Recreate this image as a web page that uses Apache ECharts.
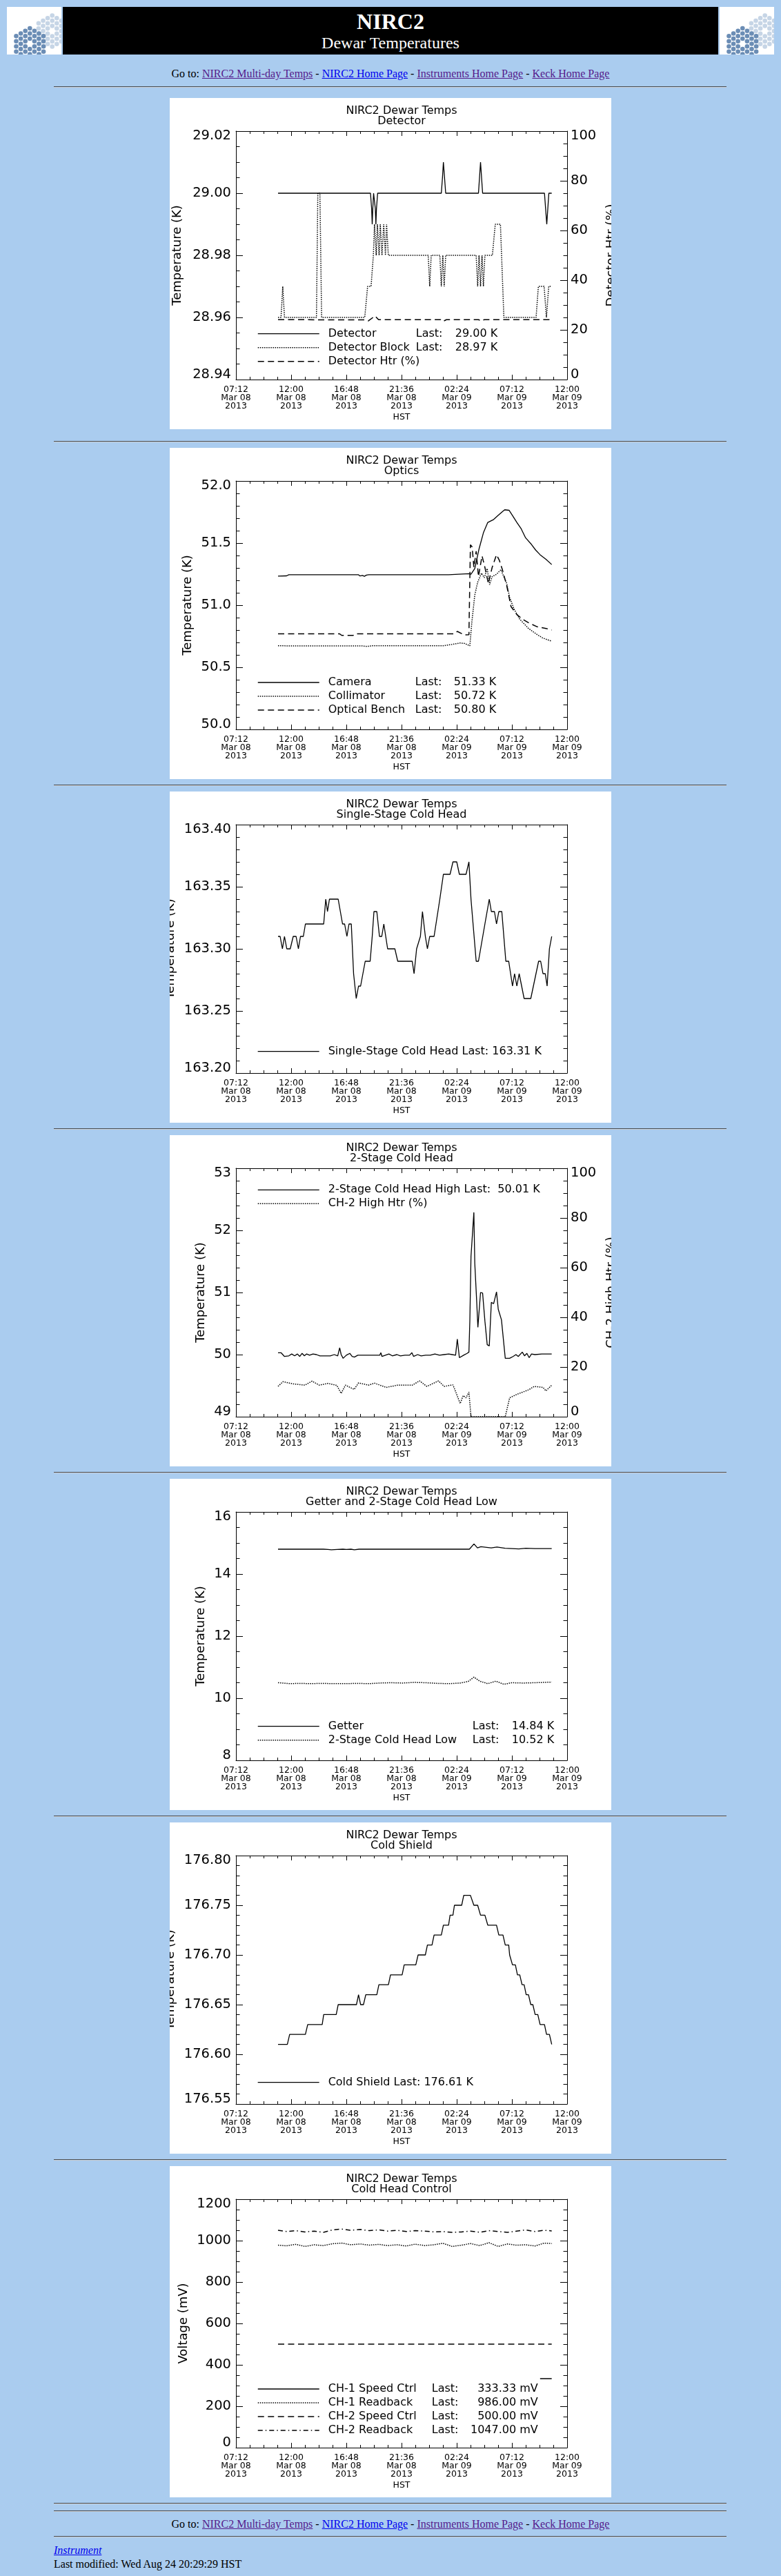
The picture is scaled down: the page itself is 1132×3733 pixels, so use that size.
<!DOCTYPE html>
<html><head><meta charset="utf-8">
<title>NIRC2 Dewar Temperatures</title>
<script src="https://cdn.jsdelivr.net/npm/echarts@6/dist/echarts.min.js"></script>
<style>
html,body{margin:0;padding:0;background:#AACCEF;}
#page{position:relative;width:1132px;height:3733px;overflow:hidden;font-family:'Liberation Serif','Times New Roman',serif;color:#000;}
.hr{position:absolute;left:78px;width:975px;height:0;border-top:1px solid #474d55;border-bottom:1px solid #c9cdd2;}
.goto{position:absolute;left:0;width:1132px;text-align:center;font-size:16px;line-height:16px;white-space:nowrap;}
a{text-decoration:underline;}
a.v{color:#551A8B;} a.n{color:#0000EE;}
.chart{position:absolute;left:246px;width:640px;height:480px;background:#fff;}
.logo{position:absolute;top:10px;width:79px;height:69px;background:#fff;}
</style></head>
<body>
<div id="page">
  <svg class="logo" id="logoL" style="left:10px" width="79" height="69"></svg>
  <div style="position:absolute;left:91px;top:10px;width:950px;height:69px;background:#000;"></div>
  <svg class="logo" id="logoR" style="left:1043px" width="78" height="69"></svg>
  <div style="position:absolute;left:91px;top:15px;width:950px;text-align:center;color:#fff;font-size:32px;line-height:32px;font-weight:bold;">NIRC2</div>
  <div style="position:absolute;left:91px;top:50px;width:950px;text-align:center;color:#fff;font-size:24px;line-height:24px;">Dewar Temperatures</div>

  <div class="goto" style="top:99px">Go to: <a class="v" href="#">NIRC2 Multi-day Temps</a> - <a class="n" href="#">NIRC2 Home Page</a> - <a class="v" href="#">Instruments Home Page</a> - <a class="v" href="#">Keck Home Page</a></div>
  <div class="hr" style="top:125px"></div>

  <div class="chart" id="c1" style="top:142px"></div>
  <div class="hr" style="top:639px"></div>
  <div class="chart" id="c2" style="top:649px"></div>
  <div class="hr" style="top:1137px"></div>
  <div class="chart" id="c3" style="top:1147px"></div>
  <div class="hr" style="top:1635px"></div>
  <div class="chart" id="c4" style="top:1645px"></div>
  <div class="hr" style="top:2133px"></div>
  <div class="chart" id="c5" style="top:2143px"></div>
  <div class="hr" style="top:2631px"></div>
  <div class="chart" id="c6" style="top:2641px"></div>
  <div class="hr" style="top:3129px"></div>
  <div class="chart" id="c7" style="top:3139px"></div>
  <div class="hr" style="top:3627px"></div>
  <div class="hr" style="top:3638px"></div>

  <div class="goto" style="top:3650px">Go to: <a class="v" href="#">NIRC2 Multi-day Temps</a> - <a class="n" href="#">NIRC2 Home Page</a> - <a class="v" href="#">Instruments Home Page</a> - <a class="v" href="#">Keck Home Page</a></div>
  <div class="hr" style="top:3675px"></div>
  <div style="position:absolute;left:78px;top:3688px;font-size:16px;line-height:16px;font-style:italic;"><a class="n" href="#">Instrument</a></div>
  <div style="position:absolute;left:78px;top:3708px;font-size:16px;line-height:16px;white-space:nowrap;">Last modified: Wed Aug 24 20:29:29 HST</div>
</div>

<script>
// ---------------- DATA (time = hours after 07:12 Mar 08 2013 HST) ----------------
// Chart 1: Detector
const detTemp = [[3.66,29.00],[11.70,29.00],[11.80,28.995],[11.85,28.99],[11.90,28.995],[11.97,29.00],[12.03,29.00],[12.12,28.995],[12.17,28.99],[12.22,28.995],[12.32,29.00],[17.86,29.00],[17.96,29.005],[18.04,29.01],[18.14,29.005],[18.24,29.00],[21.09,29.00],[21.18,29.005],[21.27,29.01],[21.36,29.005],[21.45,29.00],[26.83,29.00],[26.93,28.995],[27.03,28.99],[27.12,28.995],[27.21,29.00],[27.46,29.00]];
const detBlock = [[3.66,28.96],[3.92,28.96],[4.07,28.97],[4.22,28.96],[7.00,28.96],[7.12,29.00],[7.30,29.00],[7.45,28.96],[11.20,28.96],[11.45,28.97],[11.75,28.97],[11.95,28.98],[12.05,28.99],[12.20,28.98],[12.30,28.99],[12.45,28.98],[12.55,28.99],[12.70,28.98],[12.85,28.99],[13.00,28.98],[13.10,28.99],[13.25,28.98],[16.72,28.98],[16.85,28.97],[16.98,28.98],[17.73,28.98],[17.86,28.97],[17.99,28.98],[18.11,28.97],[18.24,28.98],[20.89,28.98],[21.02,28.97],[21.14,28.98],[21.27,28.97],[21.40,28.98],[21.52,28.97],[21.65,28.98],[22.30,28.98],[22.55,28.99],[23.00,28.99],[23.30,28.96],[26.10,28.96],[26.30,28.97],[26.80,28.97],[27.00,28.96],[27.20,28.97],[27.46,28.97]];
const detHtr = [[3.66,24.1],[11.2,24.0],[11.5,23.6],[12.1,25.6],[12.4,24.1],[17.8,24.1],[18.0,23.4],[18.3,24.1],[21.1,24.1],[21.3,23.6],[21.6,24.1],[27.46,24.1]];

// Chart 2: Optics
const camera = [[3.66,51.234],[4.40,51.236],[4.60,51.245],[10.66,51.245],[10.79,51.235],[11.00,51.240],[11.17,51.233],[11.35,51.242],[11.55,51.245],[18.49,51.245],[18.57,51.254],[20.26,51.254],[20.44,51.249],[20.77,51.295],[21.14,51.453],[21.52,51.583],[21.90,51.666],[22.41,51.690],[22.79,51.722],[23.17,51.753],[23.37,51.768],[23.75,51.764],[24.05,51.722],[24.43,51.666],[24.81,51.614],[25.19,51.542],[25.69,51.490],[26.07,51.443],[26.45,51.406],[26.96,51.369],[27.46,51.327]];
const collimator = [[3.66,50.673],[11.0,50.672],[11.4,50.668],[11.8,50.673],[17.99,50.673],[18.74,50.683],[19.50,50.696],[19.88,50.692],[20.34,50.673],[20.51,50.859],[20.77,51.082],[21.02,51.184],[21.35,51.258],[21.60,51.221],[21.85,51.295],[22.06,51.165],[22.28,51.230],[22.66,51.249],[23.04,51.286],[23.29,51.230],[23.55,51.174],[23.80,51.063],[24.18,50.970],[24.68,50.887],[25.44,50.813],[26.20,50.763],[26.70,50.735],[27.46,50.710]];
const bench = [[3.66,50.770],[9.0,50.770],[9.2,50.757],[10.2,50.757],[10.4,50.770],[19.0,50.770],[19.25,50.789],[19.88,50.760],[20.26,50.763],[20.39,51.486],[20.54,51.470],[20.69,51.304],[20.89,51.434],[21.09,51.230],[21.40,51.397],[21.65,51.304],[21.95,51.174],[22.28,51.304],[22.66,51.406],[22.91,51.360],[23.17,51.286],[23.55,51.156],[23.92,50.989],[24.43,50.924],[24.93,50.887],[25.44,50.859],[26.20,50.826],[26.96,50.813],[27.46,50.800]];

// Chart 3: Single-Stage Cold Head
const ssColdHead = [[3.66,163.31],[3.84,163.31],[4.04,163.30],[4.22,163.31],[4.42,163.30],[4.72,163.30],[4.98,163.31],[5.23,163.31],[5.43,163.30],[5.61,163.31],[5.86,163.31],[6.04,163.32],[7.63,163.32],[7.81,163.34],[7.96,163.33],[8.13,163.34],[8.89,163.34],[9.27,163.32],[9.45,163.32],[9.65,163.31],[9.83,163.32],[10.03,163.32],[10.23,163.28],[10.46,163.26],[10.66,163.27],[10.84,163.27],[11.24,163.29],[11.67,163.29],[11.85,163.31],[12.00,163.33],[12.25,163.33],[12.48,163.31],[12.68,163.31],[12.86,163.32],[13.19,163.30],[13.82,163.30],[14.07,163.29],[15.33,163.29],[15.49,163.28],[15.71,163.30],[16.04,163.31],[16.22,163.33],[16.47,163.31],[16.65,163.30],[16.85,163.31],[17.23,163.31],[17.73,163.34],[18.04,163.36],[18.62,163.36],[18.87,163.37],[19.20,163.37],[19.43,163.36],[20.01,163.36],[20.26,163.37],[20.44,163.34],[20.89,163.29],[21.09,163.29],[21.65,163.32],[22.03,163.34],[22.21,163.33],[22.48,163.33],[22.66,163.32],[22.86,163.33],[23.12,163.33],[23.47,163.29],[23.72,163.29],[24.05,163.27],[24.23,163.28],[24.43,163.27],[24.63,163.28],[25.06,163.26],[25.64,163.26],[26.32,163.29],[26.50,163.29],[26.70,163.28],[26.90,163.28],[27.06,163.27],[27.26,163.30],[27.46,163.31]];

// Chart 4: 2-Stage Cold Head
const csHigh = [[3.66,50.03],[3.92,50.03],[4.22,49.97],[4.6,49.98],[4.85,50.01],[5.1,49.98],[5.35,50.01],[5.55,49.97],[5.75,50.02],[5.95,49.98],[6.15,50.01],[6.4,49.99],[6.7,50.01],[7.0,50.0],[7.3,49.98],[7.8,49.98],[8.2,49.98],[8.55,50.0],[8.85,49.98],[9.02,50.11],[9.15,50.0],[9.32,49.94],[9.6,49.99],[9.9,50.02],[10.1,49.97],[10.3,49.96],[10.6,49.99],[11.2,49.99],[12.0,49.99],[12.5,49.99],[12.6,50.03],[12.7,49.97],[13.0,49.99],[13.3,50.01],[13.6,49.98],[14.0,50.0],[14.3,49.98],[14.7,49.99],[15.1,49.99],[15.3,50.03],[15.45,49.97],[15.8,50.0],[16.1,49.98],[16.5,49.99],[16.9,49.99],[17.3,50.01],[17.7,49.99],[18.1,50.0],[18.5,50.01],[18.8,50.0],[19.1,49.99],[19.25,50.25],[19.43,49.95],[19.8,49.99],[20.1,50.02],[20.26,50.04],[20.34,50.54],[20.44,51.58],[20.69,52.29],[20.77,51.47],[20.94,50.84],[21.04,50.44],[21.27,51.0],[21.45,50.99],[21.65,50.54],[21.85,50.16],[22.03,50.14],[22.21,50.84],[22.41,50.82],[22.66,51.01],[22.81,50.73],[23.09,50.56],[23.42,49.94],[23.8,49.94],[24.1,49.97],[24.35,50.0],[24.55,49.97],[24.9,50.04],[25.1,49.98],[25.3,50.02],[25.5,49.95],[25.7,50.01],[26.0,50.0],[26.6,50.01],[27.46,50.01]];
const ch2Htr = [[3.66,12.2],[4.09,14.1],[4.98,13.2],[5.99,12.7],[6.62,14.3],[7.25,12.7],[8.01,13.4],[8.77,12.6],[9.15,9.4],[9.52,12.7],[10.28,11.0],[10.66,13.6],[11.55,12.7],[12.05,13.5],[13.06,11.8],[14.07,12.7],[15.33,12.7],[15.97,14.4],[16.6,12.2],[17.61,14.4],[18.11,12.2],[18.87,12.8],[19.12,9.9],[19.5,5.3],[19.76,8.5],[20.01,7.6],[20.26,9.9],[20.44,0],[23.42,0],[23.8,7.6],[24.43,9.0],[25.44,10.8],[25.94,12.2],[26.7,11.8],[26.96,10.4],[27.46,12.7]];

// Chart 5: Getter and 2-Stage Cold Head Low
const getter = [[3.66,14.80],[4.9,14.80],[5.0,14.79],[5.1,14.80],[7.6,14.80],[7.7,14.79],[8.0,14.79],[8.3,14.78],[8.8,14.79],[9.3,14.80],[9.6,14.79],[10.0,14.80],[10.3,14.78],[10.7,14.80],[10.8,14.79],[11.0,14.80],[20.3,14.80],[20.7,14.97],[21.0,14.84],[21.3,14.88],[21.8,14.86],[22.2,14.84],[22.7,14.87],[23.4,14.83],[24.0,14.82],[24.6,14.81],[25.2,14.83],[26.0,14.82],[27.46,14.82]];
const csLow = [[3.66,10.50],[4.7,10.47],[5.5,10.48],[6.5,10.47],[7.5,10.48],[8.5,10.47],[9.5,10.47],[10.5,10.48],[11.5,10.47],[12.5,10.49],[13.5,10.50],[14.5,10.49],[15.5,10.51],[16.5,10.50],[17.5,10.48],[18.5,10.47],[19.5,10.49],[20.2,10.54],[20.7,10.68],[21.2,10.55],[21.9,10.47],[22.6,10.55],[23.3,10.45],[24.0,10.50],[25.0,10.49],[26.0,10.50],[27.46,10.52]];

// Chart 6: Cold Shield
const coldShield = [[3.66,176.61],[4.47,176.61],[4.67,176.62],[6.04,176.62],[6.24,176.63],[7.50,176.63],[7.63,176.64],[8.72,176.64],[8.89,176.65],[10.48,176.65],[10.66,176.66],[10.84,176.65],[11.09,176.65],[11.29,176.66],[12.25,176.66],[12.43,176.67],[13.26,176.67],[13.44,176.68],[14.45,176.68],[14.63,176.69],[15.64,176.69],[15.84,176.70],[16.47,176.70],[16.65,176.71],[17.05,176.71],[17.23,176.72],[17.86,176.72],[18.04,176.73],[18.49,176.73],[18.62,176.74],[18.87,176.74],[19.00,176.75],[19.63,176.75],[19.81,176.76],[20.39,176.76],[20.69,176.75],[21.02,176.75],[21.27,176.74],[21.65,176.74],[21.90,176.73],[22.66,176.73],[22.86,176.72],[23.22,176.72],[23.42,176.71],[23.72,176.71],[23.80,176.70],[23.92,176.70],[24.05,176.69],[24.30,176.69],[24.48,176.68],[24.68,176.68],[24.88,176.67],[25.06,176.67],[25.24,176.66],[25.44,176.66],[25.64,176.65],[25.82,176.65],[26.02,176.64],[26.25,176.64],[26.45,176.63],[26.83,176.63],[27.01,176.62],[27.26,176.62],[27.46,176.61]];

// Chart 7: Cold Head Control (mV)
const rbTimes = [3.66,4.4,5.2,6.0,6.8,7.6,8.4,9.2,10.0,10.8,11.6,12.4,13.2,14.0,14.8,15.6,16.4,17.2,18.0,18.8,19.6,20.4,21.2,22.0,22.8,23.6,24.4,25.2,26.0,26.8,27.46];
const ch2Readback = [1050,1044,1048,1042,1046,1040,1052,1056,1050,1054,1048,1052,1046,1050,1044,1048,1046,1042,1044,1040,1042,1046,1040,1048,1044,1040,1046,1052,1044,1050,1047];
const ch1Readback = [978,975,982,972,980,976,985,988,980,984,978,982,976,980,974,983,976,980,987,972,978,986,976,990,972,984,978,980,974,988,986];
const ch2Speed = [[3.66,500],[27.46,500]];
const ch1Speed = [[26.45,333.33],[27.46,333.33]];

// ---------------- CHART BUILDING ----------------
const FF = "'DejaVu Sans', 'Noto Sans', sans-serif";
const FW = 'normal';
const T0 = Date.UTC(2013, 2, 8, 7, 12, 0);
const MON = ['Jan','Feb','Mar','Apr','May','Jun','Jul','Aug','Sep','Oct','Nov','Dec'];
const p2 = n => String(n).padStart(2, '0');
function tlabel(v) {
  const d = new Date(T0 + Math.round(v * 60) * 60000);
  return p2(d.getUTCHours()) + ':' + p2(d.getUTCMinutes()) + '\n' + MON[d.getUTCMonth()] + ' ' + p2(d.getUTCDate()) + '\n' + d.getUTCFullYear();
}
const SOLID = 'solid', DOT = [1.5, 1.6], DASH = [9, 5.5], DASHDOT = [7, 4, 1.5, 4];

function yAxisOpt(a, pos, show, margin) {
  const lbl = {fontSize: 19.5, fontFamily: FF, fontWeight: FW, color: '#000'};
  const fmt = v => {
    const s = v.toFixed(a.dec);
    if (Math.abs(v - a.max) < 1e-9) return '{t|' + s + '}';
    if (Math.abs(v - a.min) < 1e-9) return '{b|' + s + '}';
    return s;
  };
  return {
    type: 'value', position: pos, min: a.min, max: a.max, interval: a.interval,
    axisLine: {show: true, onZero: false, lineStyle: {color: '#000', width: 1}},
    axisTick: {show: true, inside: true, length: 10, lineStyle: {color: '#000', width: 1}},
    minorTick: {show: true, splitNumber: a.minor, length: 5.5, lineStyle: {color: '#000', width: 1}},
    splitLine: {show: false}, minorSplitLine: {show: false},
    axisLabel: Object.assign({show: show, margin: margin, formatter: fmt, showMinLabel: true, showMaxLabel: true,
      rich: {t: Object.assign({padding: [14, 0, 0, 0]}, lbl), b: Object.assign({padding: [0, 0, 14, 0]}, lbl)}}, lbl),
    name: show ? a.name : '', nameLocation: 'middle', nameGap: a.gap, nameRotate: 90, nameMoveOverlap: false,
    nameTextStyle: {fontSize: 18, fontFamily: FF, fontWeight: FW, color: '#000'}
  };
}
function xAxisOpt(pos) {
  const bottom = pos === 'bottom';
  return {
    type: 'value', position: pos, min: 0, max: 28.8, interval: 4.8,
    axisLine: {show: true, onZero: false, lineStyle: {color: '#000', width: 1}},
    axisTick: {show: true, inside: true, length: 7, lineStyle: {color: '#000', width: 1}},
    minorTick: {show: true, splitNumber: 4, length: 4, lineStyle: {color: '#000', width: 1}},
    splitLine: {show: false}, minorSplitLine: {show: false},
    axisLabel: {show: bottom, margin: 9, formatter: tlabel, fontSize: 12.5, lineHeight: 11.7, fontFamily: FF, fontWeight: FW, color: '#000',
      showMinLabel: true, showMaxLabel: true, hideOverlap: false},
    name: bottom ? 'HST' : '', nameLocation: 'middle', nameGap: 48, nameMoveOverlap: false,
    nameTextStyle: {fontSize: 12.5, fontFamily: FF, fontWeight: FW, color: '#000'}
  };
}

const charts = [
  {id: 'c1', sub: 'Detector',
   yL: {min: 28.94, max: 29.02, interval: 0.02, minor: 4, dec: 2, name: 'Temperature (K)', gap: 76},
   yR: {min: 0, max: 100, interval: 20, minor: 4, dec: 0, name: 'Detector Htr (%)', gap: 55},
   series: [{name: 'Detector', data: detTemp, type: SOLID}, {name: 'Detector Block', data: detBlock, type: DOT}, {name: 'Detector Htr (%)', data: detHtr, type: DASH, y: 1}],
   leg: {top: 333.7, cols: [127, 57], rows: {'Detector': ['Detector', 'Last:', '29.00 K'], 'Detector Block': ['Detector Block', 'Last:', '28.97 K'], 'Detector Htr (%)': ['Detector Htr (%)']}}},
  {id: 'c2', sub: 'Optics',
   yL: {min: 50, max: 52, interval: 0.5, minor: 5, dec: 1, name: 'Temperature (K)', gap: 61},
   series: [{name: 'Camera', data: camera, type: SOLID}, {name: 'Collimator', data: collimator, type: DOT}, {name: 'Optical Bench', data: bench, type: DASH}],
   leg: {top: 332, cols: [126, 56], rows: {'Camera': ['Camera', 'Last:', '51.33 K'], 'Collimator': ['Collimator', 'Last:', '50.72 K'], 'Optical Bench': ['Optical Bench', 'Last:', '50.80 K']}}},
  {id: 'c3', sub: 'Single-Stage Cold Head',
   yL: {min: 163.2, max: 163.4, interval: 0.05, minor: 5, dec: 2, name: 'Temperature (K)', gap: 86},
   series: [{name: 'Single-Stage Cold Head', data: ssColdHead, type: SOLID}],
   leg: {top: 368.7, rows: {'Single-Stage Cold Head': ['Single-Stage Cold Head Last: 163.31 K']}}},
  {id: 'c4', sub: '2-Stage Cold Head',
   yL: {min: 49, max: 53, interval: 1, minor: 5, dec: 0, name: 'Temperature (K)', gap: 42},
   yR: {min: 0, max: 100, interval: 20, minor: 4, dec: 0, name: 'CH-2 High Htr (%)', gap: 55},
   series: [{name: '2-Stage Cold Head High', data: csHigh, type: SOLID}, {name: 'CH-2 High Htr (%)', data: ch2Htr, type: DOT, y: 1}],
   leg: {top: 71.3, rows: {'2-Stage Cold Head High': ['2-Stage Cold Head High Last:  50.01 K'], 'CH-2 High Htr (%)': ['CH-2 High Htr (%)']}}},
  {id: 'c5', sub: 'Getter and 2-Stage Cold Head Low',
   yL: {min: 8, max: 16, interval: 2, minor: 4, dec: 0, name: 'Temperature (K)', gap: 42},
   series: [{name: 'Getter', data: getter, type: SOLID}, {name: '2-Stage Cold Head Low', data: csLow, type: DOT}],
   leg: {top: 350.7, cols: [209, 57], rows: {'Getter': ['Getter', 'Last:', '14.84 K'], '2-Stage Cold Head Low': ['2-Stage Cold Head Low', 'Last:', '10.52 K']}}},
  {id: 'c6', sub: 'Cold Shield',
   yL: {min: 176.55, max: 176.8, interval: 0.05, minor: 5, dec: 2, name: 'Temperature (K)', gap: 86},
   series: [{name: 'Cold Shield', data: coldShield, type: SOLID}],
   leg: {top: 368.7, rows: {'Cold Shield': ['Cold Shield Last: 176.61 K']}}},
  {id: 'c7', sub: 'Cold Head Control',
   yL: {min: 0, max: 1200, interval: 200, minor: 4, dec: 0, name: 'Voltage (mV)', gap: 67},
   series: [{name: 'CH-1 Speed Ctrl', data: ch1Speed, type: SOLID},
            {name: 'CH-1 Readback', data: rbTimes.map((t, i) => [t, ch1Readback[i]]), type: DOT},
            {name: 'CH-2 Speed Ctrl', data: ch2Speed, type: DASH},
            {name: 'CH-2 Readback', data: rbTimes.map((t, i) => [t, ch2Readback[i]]), type: DASHDOT}],
   leg: {top: 315, cols: [150, 48, 106], rows: {'CH-1 Speed Ctrl': ['CH-1 Speed Ctrl', 'Last:', '333.33 mV'], 'CH-1 Readback': ['CH-1 Readback', 'Last:', '986.00 mV'], 'CH-2 Speed Ctrl': ['CH-2 Speed Ctrl', 'Last:', '500.00 mV'], 'CH-2 Readback': ['CH-2 Readback', 'Last:', '1047.00 mV']}}}
];

function build(cfg) {
  const el = document.getElementById(cfg.id);
  const chart = echarts.init(el, null, {renderer: 'canvas', width: 640, height: 480});
  const txt = {fontSize: 16, fontFamily: FF, fontWeight: FW, color: '#000', lineHeight: 14};
  const cols = cfg.leg.cols || [];
  const rich = {
    p: Object.assign({}, txt),
    n: Object.assign({width: cols[0]}, txt),
    l: Object.assign({width: cols[1]}, txt),
    v: Object.assign(cols[2] ? {width: cols[2], align: 'right'} : {}, txt)
  };
  const option = {
    animation: false,
    backgroundColor: '#fff',
    grid: {left: 96, right: 64, top: 48, bottom: 72, containLabel: false, outerBoundsMode: 'none'},
    xAxis: [xAxisOpt('bottom'), xAxisOpt('top')],
    yAxis: [yAxisOpt(cfg.yL, 'left', true, 7), cfg.yR ? yAxisOpt(cfg.yR, 'right', true, 5) : yAxisOpt(cfg.yL, 'right', false, 5)],
    graphic: [{type: 'text', x: 336, y: 11.5, silent: true,
      style: {text: 'NIRC2 Dewar Temps\n' + cfg.sub, fontSize: 16, fontFamily: FF, fontWeight: FW, fill: '#000', lineHeight: 15,
              align: 'center', verticalAlign: 'top', textAlign: 'center', textVerticalAlign: 'top'}}],
    legend: {
      show: true, orient: 'vertical', left: 127, top: cfg.leg.top, padding: 0,
      itemWidth: 89, itemHeight: 14, itemGap: 4, selectedMode: false,
      data: cfg.series.map(s => ({name: s.name, lineStyle: {color: '#000', width: s.type === SOLID ? 1.3 : 1.5, type: s.type, opacity: 1},
                                  itemStyle: {opacity: 0, color: 'rgba(0,0,0,0)', borderWidth: 0}})),
      formatter: name => {
        const r = cfg.leg.rows[name];
        if (r.length === 1) return '{p|' + r[0] + '}';
        return '{n|' + r[0] + '}{l|' + r[1] + '}{v|' + r[2] + '}';
      },
      textStyle: Object.assign({padding: [0, 0, 0, 8], rich: rich}, txt)
    },
    series: cfg.series.map(s => ({
      type: 'line', name: s.name, data: s.data, xAxisIndex: 0, yAxisIndex: s.y || 0,
      symbol: 'none', showSymbol: false, silent: true, clip: true,
      lineStyle: {color: '#000', width: s.type === SOLID ? 1.3 : 1.5, type: s.type},
      itemStyle: {color: '#000'},
      emphasis: {disabled: true}
    }))
  };
  chart.setOption(option);
}
charts.forEach(build);

// ---------------- Keck segment logos (decoration) ----------------
function drawLogo(id) {
  const svg = document.getElementById(id);
  const ns = 'http://www.w3.org/2000/svg';
  const arrays = [{cx: 65.7, cy: 35.0, col: '#c6d5e6'}, {cx: 33.3, cy: 53.5, col: '#6b8db5'}];
  arrays.forEach(g => {
    for (let q = -3; q <= 3; q++) for (let r = -3; r <= 3; r++) {
      const s = -q - r;
      if (Math.max(Math.abs(q), Math.abs(r), Math.abs(s)) > 3 || (q === 0 && r === 0)) continue;
      const c = document.createElementNS(ns, 'circle');
      c.setAttribute('cx', g.cx + q * 6.6);
      c.setAttribute('cy', g.cy + (r + q / 2) * 7.5);
      c.setAttribute('r', 3.3);
      c.setAttribute('fill', g.col);
      svg.appendChild(c);
    }
  });
}
drawLogo('logoL'); drawLogo('logoR');
</script>
</body></html>
